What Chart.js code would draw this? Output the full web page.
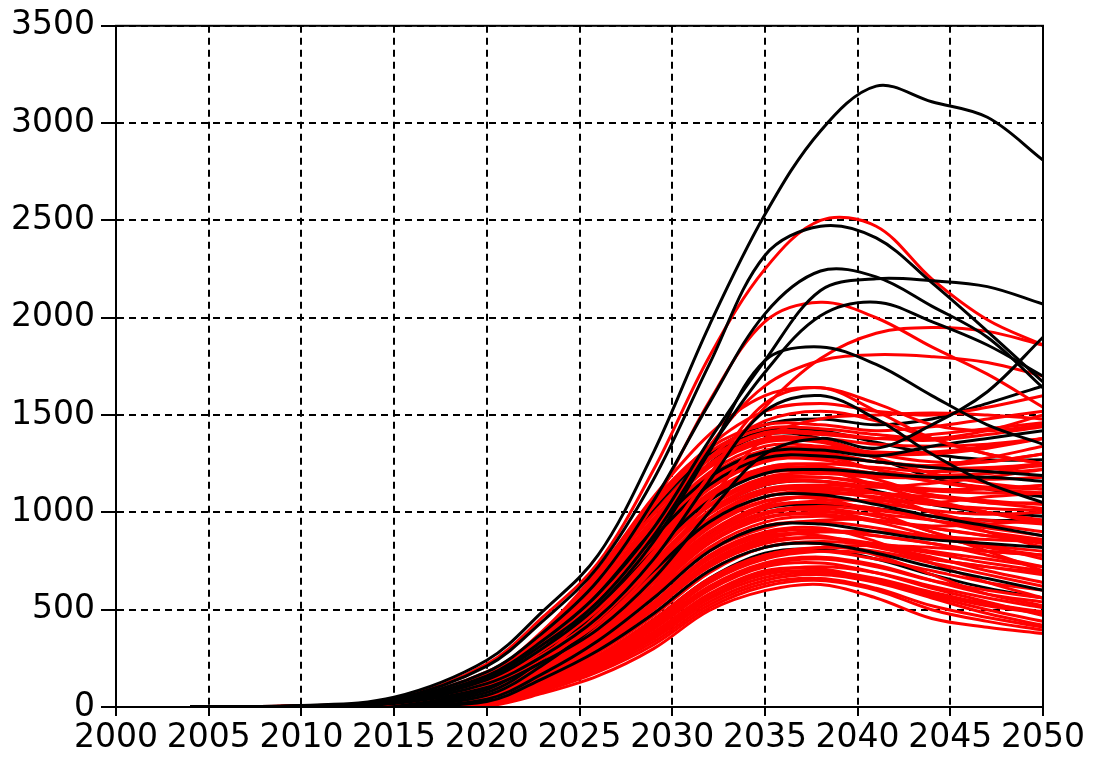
<!DOCTYPE html>
<html>
<head>
<meta charset="utf-8">
<title>Runs 2004-2050</title>
<script src="https://cdn.jsdelivr.net/npm/chart.js@4.4.1/dist/chart.umd.min.js"></script>
<style>
  html, body { margin: 0; padding: 0; background: #fff; }
  #wrap { width: 1094px; height: 758px; }
</style>
</head>
<body>
<div id="wrap"><canvas id="chart" width="1094" height="758"></canvas></div>
<script>
// sample years shared by every run
const years = [2004, 2010, 2015, 2020, 2023, 2026, 2029, 2032, 2035, 2038, 2041, 2044, 2047, 2050];
const xTicks = [2000, 2005, 2010, 2015, 2020, 2025, 2030, 2035, 2040, 2045, 2050];
const yTicks = [0, 500, 1000, 1500, 2000, 2500, 3000, 3500];

// black runs drawn on top (highest ones)
const blackTop = [
  [0, 8, 50, 240, 490, 780, 1310, 1960, 2530, 2960, 3190, 3110, 3030, 2810],
  [0, 6, 40, 210, 440, 720, 1170, 1760, 2320, 2470, 2410, 2180, 1930, 1670],
  [0, 5, 35, 180, 380, 650, 1060, 1560, 2020, 2240, 2210, 2060, 1900, 1640],
  [0, 5, 30, 160, 340, 580, 920, 1370, 1780, 2140, 2200, 2190, 2160, 2070],
  [0, 5, 30, 150, 320, 540, 880, 1320, 1720, 2010, 2080, 1980, 1860, 1700],
  [0, 4, 25, 140, 300, 520, 850, 1310, 1780, 1850, 1760, 1600, 1450, 1350],
  [0, 3, 18, 100, 230, 400, 660, 1000, 1300, 1380, 1330, 1450, 1620, 1900],
  [0, 4, 22, 120, 260, 460, 760, 1160, 1520, 1600, 1480, 1300, 1150, 1050]
];

// black runs mixed into the band, drawn over the red
const blackMid = [
  [0, 1, 5, 40, 170, 340, 560, 800, 930, 940, 900, 860, 840, 820],
  [0, 2, 8, 60, 215, 430, 700, 950, 1080, 1090, 1040, 980, 930, 880],
  [0, 3, 12, 90, 275, 550, 870, 1140, 1280, 1290, 1260, 1230, 1210, 1190],
  [0, 1, 4, 28, 145, 290, 480, 700, 820, 840, 790, 720, 660, 600],
  [0, 2, 10, 75, 245, 500, 800, 1060, 1200, 1220, 1200, 1180, 1180, 1160],
  [0, 3, 14, 100, 295, 580, 910, 1180, 1310, 1320, 1290, 1340, 1380, 1420]
];

// upper red runs
const redTop = [
  [0, 6, 40, 220, 460, 740, 1220, 1800, 2250, 2500, 2470, 2200, 1990, 1860],
  [0, 5, 35, 180, 370, 640, 1040, 1570, 1980, 2080, 2000, 1850, 1710, 1540],
  [0, 5, 28, 150, 320, 560, 900, 1340, 1650, 1780, 1810, 1800, 1770, 1700],
  [0, 4, 24, 130, 290, 500, 800, 1190, 1540, 1790, 1920, 1950, 1930, 1860],
  [0, 4, 24, 125, 270, 470, 780, 1190, 1560, 1640, 1520, 1380, 1300, 1250],
  [0, 3, 18, 110, 250, 430, 710, 1060, 1380, 1480, 1500, 1510, 1500, 1480],
  [0, 5, 25, 170, 390, 700, 1080, 1400, 1600, 1640, 1560, 1450, 1420, 1450],
  [0, 5, 24, 160, 370, 680, 1040, 1340, 1520, 1560, 1520, 1500, 1540, 1600],
  [0, 4, 20, 130, 330, 620, 960, 1280, 1470, 1520, 1470, 1380, 1300, 1250]
];

// the dense red band
const redBand = [
  [0, 0, 0, 5, 70, 160, 300, 496, 598, 630, 560, 455, 410, 378],
  [0, 0, 1, 10, 90, 200, 350, 540, 650, 680, 640, 560, 480, 420],
  [0, 0, 2, 14, 105, 230, 400, 600, 720, 740, 690, 610, 540, 470],
  [0, 1, 3, 20, 120, 260, 440, 640, 760, 800, 790, 760, 720, 690],
  [0, 1, 3, 24, 135, 280, 470, 690, 820, 840, 780, 680, 580, 520],
  [0, 1, 4, 30, 150, 310, 520, 740, 860, 900, 900, 880, 860, 850],
  [0, 1, 5, 35, 160, 330, 540, 780, 900, 920, 850, 740, 640, 560],
  [0, 1, 5, 40, 175, 350, 580, 820, 950, 980, 960, 930, 940, 960],
  [0, 2, 6, 45, 185, 370, 610, 850, 990, 1020, 980, 900, 800, 700],
  [0, 2, 7, 50, 195, 390, 640, 880, 1020, 1060, 1060, 1050, 1080, 1100],
  [0, 2, 8, 55, 210, 420, 680, 930, 1060, 1070, 1000, 900, 830, 760],
  [0, 2, 8, 60, 220, 440, 710, 960, 1100, 1120, 1100, 1080, 1050, 1020],
  [0, 2, 9, 70, 235, 470, 750, 1010, 1150, 1160, 1100, 1000, 900, 820],
  [0, 3, 10, 75, 245, 490, 780, 1040, 1180, 1200, 1180, 1180, 1200, 1250],
  [0, 3, 11, 80, 255, 510, 810, 1080, 1220, 1220, 1140, 1060, 1000, 950],
  [0, 3, 12, 90, 270, 540, 850, 1120, 1260, 1280, 1260, 1240, 1260, 1300],
  [0, 3, 13, 95, 285, 560, 880, 1150, 1290, 1290, 1220, 1160, 1120, 1100],
  [0, 4, 15, 105, 300, 590, 920, 1190, 1320, 1330, 1300, 1300, 1330, 1380],
  [0, 4, 16, 115, 315, 610, 950, 1230, 1360, 1360, 1280, 1200, 1150, 1120],
  [0, 4, 18, 125, 330, 640, 990, 1270, 1400, 1400, 1380, 1400, 1430, 1460],
  [0, 5, 20, 140, 350, 670, 1030, 1310, 1430, 1430, 1400, 1380, 1420, 1500],
  [0, 1, 4, 28, 145, 300, 500, 720, 840, 870, 840, 800, 760, 720],
  [0, 2, 6, 48, 190, 380, 620, 870, 1000, 1010, 960, 920, 880, 860],
  [0, 3, 10, 72, 240, 480, 770, 1030, 1160, 1180, 1150, 1120, 1120, 1140],
  [0, 1, 3, 18, 115, 250, 430, 640, 770, 820, 830, 820, 800, 780],
  [0, 2, 7, 52, 200, 400, 660, 900, 1040, 1090, 1100, 1060, 1000, 940],
  [0, 3, 12, 85, 265, 530, 840, 1100, 1230, 1240, 1170, 1090, 1050, 1050],
  [0, 0, 2, 12, 95, 215, 380, 580, 700, 710, 650, 580, 520, 480],
  [0, 1, 4, 32, 155, 320, 530, 760, 880, 880, 820, 760, 720, 680],
  [0, 2, 9, 65, 225, 455, 730, 990, 1120, 1140, 1130, 1150, 1180, 1220],
  [0, 4, 17, 120, 320, 620, 970, 1250, 1380, 1370, 1300, 1260, 1260, 1300],
  [0, 5, 22, 150, 370, 690, 1060, 1330, 1450, 1450, 1420, 1440, 1480, 1520],
  [0, 2, 8, 58, 215, 430, 690, 940, 1080, 1110, 1070, 1000, 940, 900],
  [0, 1, 5, 38, 165, 340, 560, 800, 920, 960, 960, 920, 880, 840],
  [0, 3, 14, 100, 290, 575, 900, 1170, 1300, 1310, 1260, 1240, 1280, 1340],
  [0, 1, 2, 16, 110, 240, 420, 620, 740, 770, 730, 650, 580, 540],
  [0, 0, 1, 8, 80, 180, 320, 510, 620, 650, 600, 500, 440, 395],
  [0, 0, 1, 9, 85, 190, 335, 525, 635, 660, 610, 520, 460, 410],
  [0, 0, 2, 12, 95, 205, 360, 555, 665, 690, 650, 570, 500, 440],
  [0, 1, 2, 15, 100, 220, 385, 580, 690, 720, 690, 620, 560, 510],
  [0, 1, 3, 18, 110, 240, 410, 610, 730, 760, 720, 650, 600, 560],
  [0, 1, 3, 22, 125, 265, 450, 660, 780, 800, 760, 700, 640, 600],
  [0, 1, 4, 26, 140, 290, 480, 700, 820, 850, 830, 790, 740, 700],
  [0, 1, 4, 30, 148, 305, 505, 730, 850, 870, 830, 770, 700, 640],
  [0, 1, 5, 34, 158, 325, 535, 770, 890, 910, 880, 840, 800, 780],
  [0, 1, 5, 38, 168, 345, 565, 805, 930, 950, 920, 870, 830, 800],
  [0, 2, 6, 42, 180, 360, 595, 840, 970, 990, 950, 880, 820, 780],
  [0, 2, 6, 46, 188, 375, 620, 865, 1000, 1030, 1010, 980, 960, 940],
  [0, 2, 7, 50, 198, 395, 650, 895, 1030, 1050, 1020, 960, 900, 860],
  [0, 2, 8, 56, 212, 425, 690, 945, 1080, 1100, 1080, 1040, 1020, 1010],
  [0, 2, 9, 62, 222, 445, 715, 970, 1110, 1130, 1100, 1050, 1000, 960],
  [0, 3, 10, 68, 232, 465, 745, 1000, 1140, 1160, 1130, 1110, 1100, 1100],
  [0, 3, 10, 74, 242, 485, 775, 1035, 1170, 1180, 1140, 1090, 1060, 1040],
  [0, 3, 11, 80, 252, 505, 800, 1065, 1200, 1210, 1190, 1190, 1200, 1220],
  [0, 3, 12, 86, 262, 525, 830, 1095, 1230, 1250, 1230, 1210, 1220, 1240],
  [0, 3, 13, 92, 278, 550, 865, 1135, 1270, 1270, 1220, 1180, 1170, 1180],
  [0, 4, 14, 98, 292, 570, 895, 1165, 1300, 1300, 1260, 1230, 1230, 1250],
  [0, 4, 15, 108, 305, 595, 930, 1205, 1340, 1340, 1310, 1310, 1340, 1380],
  [0, 4, 16, 118, 318, 615, 960, 1240, 1370, 1380, 1350, 1340, 1350, 1380],
  [0, 4, 18, 128, 332, 645, 995, 1275, 1410, 1410, 1380, 1370, 1400, 1440],
  [0, 1, 3, 20, 118, 255, 440, 650, 780, 820, 800, 740, 680, 620],
  [0, 2, 6, 44, 182, 365, 600, 845, 975, 1000, 990, 960, 920, 880],
  [0, 1, 4, 30, 152, 312, 515, 745, 870, 900, 880, 840, 780, 720],
  [0, 0, 2, 11, 92, 210, 370, 565, 680, 700, 660, 590, 530, 490],
  [0, 3, 11, 82, 258, 515, 815, 1080, 1210, 1230, 1200, 1160, 1130, 1120],
  [0, 2, 8, 54, 205, 410, 670, 920, 1055, 1080, 1050, 1010, 990, 1000]
];

// black runs hidden mostly under the red
const blackLow = [
  [0, 4, 18, 130, 335, 650, 1000, 1280, 1420, 1420, 1360, 1300, 1270, 1270],
  [0, 1, 3, 22, 125, 260, 450, 660, 790, 810, 760, 680, 610, 560],
  [0, 2, 7, 50, 195, 390, 640, 890, 1020, 1040, 1020, 980, 960, 960],
  [0, 4, 20, 140, 350, 660, 1020, 1300, 1450, 1480, 1450, 1480, 1560, 1650],
  [0, 3, 15, 110, 300, 600, 950, 1250, 1400, 1380, 1280, 1180, 1120, 1080],
  [0, 2, 9, 65, 230, 460, 740, 1000, 1140, 1160, 1110, 1040, 1000, 980]
];

function run(values, color) {
  return {
    data: years.map((x, i) => ({ x: x, y: values[i] })),
    borderColor: color,
    borderWidth: 3,
    pointRadius: 0,
    fill: false,
    tension: 0.35
  };
}

// first dataset ends up on top in Chart.js
const datasets = []
  .concat(blackTop.map(v => run(v, '#000000')))
  .concat(redTop.map(v => run(v, '#ff0000')))
  .concat(blackMid.map(v => run(v, '#000000')))
  .concat(redBand.map(v => run(v, '#ff0000')))
  .concat(blackLow.map(v => run(v, '#000000')));

const frame = {
  id: 'frame',
  afterDraw(chart) {
    const a = chart.chartArea, ctx = chart.ctx;
    ctx.save();
    ctx.strokeStyle = '#000';
    ctx.lineWidth = 2;
    ctx.strokeRect(a.left, a.top, a.right - a.left, a.bottom - a.top);
    ctx.restore();
  }
};

const tickFont = { family: 'DejaVu Sans', size: 33 };
const plain = v => String(v);

new Chart(document.getElementById('chart'), {
  type: 'line',
  data: { datasets: datasets },
  options: {
    responsive: false,
    animation: false,
    layout: { padding: { top: 22, right: 51, left: 0, bottom: 0 } },
    plugins: { legend: { display: false }, tooltip: { enabled: false } },
    scales: {
      x: {
        type: 'linear',
        min: xTicks[0],
        max: xTicks[xTicks.length - 1],
        afterBuildTicks: s => { s.ticks = xTicks.map(v => ({ value: v })); },
        afterFit: s => { s.height = 51; },
        ticks: { autoSkip: false, maxRotation: 0, color: '#000', font: tickFont, padding: 3, callback: plain },
        grid: { color: '#000', lineWidth: 2, tickLength: 9, tickColor: '#000', tickWidth: 2, tickBorderDash: [] },
        border: { color: '#000', width: 2, dash: [7, 5] }
      },
      y: {
        min: yTicks[0],
        max: yTicks[yTicks.length - 1],
        afterBuildTicks: s => { s.ticks = yTicks.map(v => ({ value: v })); },
        afterFit: s => { s.width = 116; },
        ticks: { autoSkip: false, color: '#000', font: tickFont, padding: 6, callback: plain },
        grid: { color: '#000', lineWidth: 2, tickLength: 15, tickColor: '#000', tickWidth: 2, tickBorderDash: [] },
        border: { color: '#000', width: 2, dash: [7, 5] }
      }
    }
  },
  plugins: [frame]
});
</script>
</body>
</html>
